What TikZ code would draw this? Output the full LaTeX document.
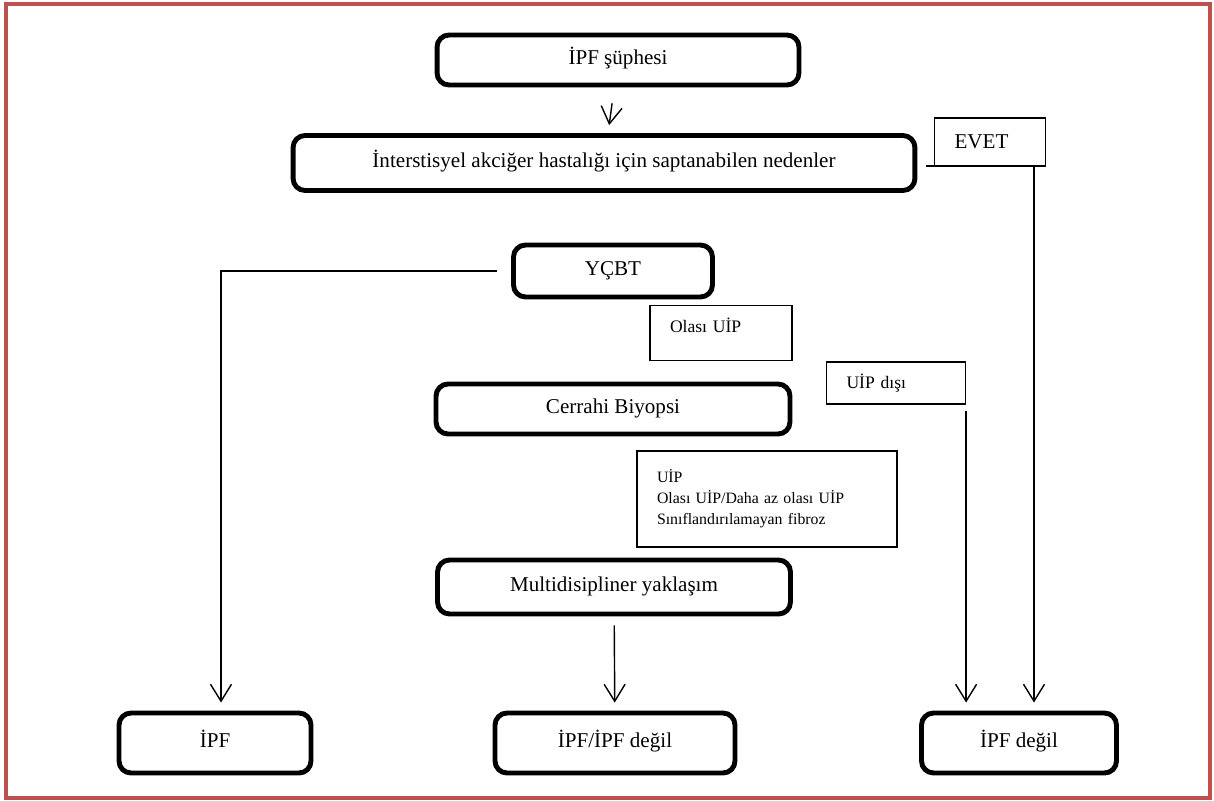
\documentclass[tikz,border=0pt]{standalone}
\usepackage{fontspec}
\setmainfont{Liberation Serif}
\usepackage{xcolor,tikz}
\usetikzlibrary{arrows.meta,positioning,calc}
\definecolor{frame}{HTML}{C0504D}
\tikzset{b/.style={draw,line width=2.8pt,rounded corners=0.24cm,minimum height=1.04cm,font=\fontsize{12}{14}\selectfont,text height=0.75em,text depth=0.25em,align=center},
 l/.style={draw,line width=0.7pt,align=left,inner xsep=0.4cm,font=\fontsize{10}{12}\selectfont},
 flow/.style={-{Straight Barb[length=3.4mm,width=4.2mm]},line width=0.8pt,shorten >=0.16cm},wire/.style={line width=0.8pt}}
\begin{document}
\begin{tikzpicture}[x=0.02cm,y=-0.02cm]
\useasboundingbox (0,0) rectangle (1214,801);
\draw[frame,line width=0.08cm] (6,4) rectangle (1210,798);
\node[b,minimum width=7.24cm,minimum height=1cm] (sup) at (618,60) {İPF şüphesi};
\node[b,minimum width=12.44cm,minimum height=1.1cm] (inter) at (604,163) {İnterstisyel akciğer hastalığı için saptanabilen nedenler};
\node[l,text width=1.42cm,minimum height=0.96cm,font=\fontsize{12}{14}\selectfont] (evet) at (990,142) {EVET};
\node[b,minimum width=3.98cm] (ycbt) at (613,271) {YÇBT};
\node[l,text width=2.04cm,minimum height=1.1cm,text depth=0.3cm] (olasi) at (721,333) {Olası UİP};
\node[l,text width=1.98cm,minimum height=0.84cm] (disi) at (896,383) {UİP dışı};
\node[b,minimum width=7.08cm,minimum height=1cm] (cer) at (613,409) {Cerrahi Biyopsi};
\node[l,text width=4.4cm,minimum height=1.92cm,font=\fontsize{9}{12}\selectfont] (liste) at (767,499) {UİP\\Olası UİP/Daha az olası UİP\\Sınıflandırılamayan fibroz};
\node[b,minimum width=7.06cm,minimum height=1.08cm] (multi) at (614,587) {Multidisipliner yaklaşım};
\node[b,minimum width=3.84cm,minimum height=1.2cm] (ipf) at (215,743) {İPF};
\node[b,minimum width=4.8cm,minimum height=1.2cm] (ipfd) at (615,743) {İPF/İPF değil};
\node[b,minimum width=3.9cm,minimum height=1.2cm] (degil) at (1019,743) {İPF değil};
\coordinate (drop) at (1034,166);
% connectors
\draw[flow,shorten <=0.32cm] (sup) -- (inter);
\draw[flow] ([xshift=0.18cm]inter.east |- drop) -- (drop) -- (drop |- degil.north);
\draw[flow] ([xshift=-0.28cm]ycbt.west) -| ([xshift=0.12cm]ipf.north);
\draw[flow,shorten <=0.12cm] (disi.south east) -- (disi.south east |- degil.north);
\draw[flow,shorten <=0.18cm] (multi) -- (ipfd);
\end{tikzpicture}
\end{document}
